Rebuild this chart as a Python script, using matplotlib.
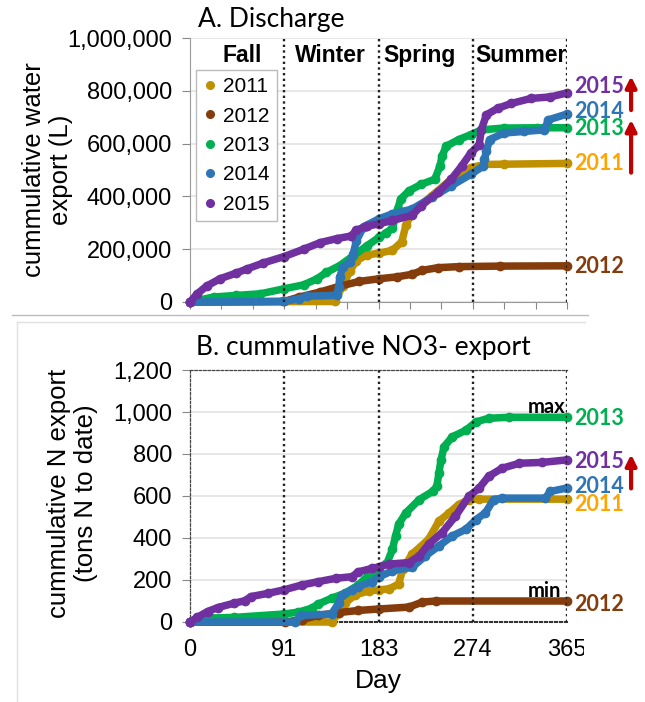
import matplotlib
matplotlib.use("Agg")
import matplotlib.pyplot as plt
from matplotlib.ticker import FuncFormatter, MultipleLocator
from matplotlib.lines import Line2D
from matplotlib.transforms import Bbox, TransformedBbox

plt.rcParams['font.family'] = ['Liberation Sans', 'DejaVu Sans']

years = ['2011', '2012', '2013', '2014', '2015']
line_colors = ['#BF9000', '#843C0C', '#00B050', '#2E75B6', '#7030A0']
label_colors = ['#FFA500', '#843C0C', '#00B050', '#2E75B6', '#7030A0']
seasons = ['Fall', 'Winter', 'Spring', 'Summer']
season_days = [91, 183, 274, 365]

# A. cumulative water export (L)
w_days_2011 = [0, 140, 148, 155, 161, 171, 183, 196, 205, 209, 215, 234, 253, 272, 285, 304, 365]
w_2011 = [0, 2000, 62000, 119000, 156000, 178000, 185000, 196000, 228000, 290000, 340000,
          402000, 465000, 509000, 521000, 522000, 525000]
w_days_2012 = [0, 91, 106, 126, 145, 164, 183, 200, 215, 225, 240, 260, 300, 365]
w_2012 = [0, 2000, 19000, 38000, 60000, 78000, 88000, 95000, 105000, 120000, 130000,
          134000, 136000, 137000]
w_days_2013 = [0, 23, 45, 68, 91, 110, 123, 132, 145, 158, 171, 183, 190, 196, 201, 204, 212,
               224, 237, 242, 244, 248, 260, 272, 282, 304, 336, 365]
w_2013 = [0, 19000, 25000, 31000, 50000, 65000, 88000, 112000, 138000, 175000, 212000, 245000,
          262000, 280000, 352000, 390000, 421000, 446000, 465000, 515000, 552000, 590000,
          615000, 634000, 652000, 659000, 660000, 660000]
w_days_2014 = [0, 90, 106, 113, 142, 144, 145, 148, 155, 158, 161, 168, 183, 196, 215, 234, 253,
               272, 284, 285, 287, 290, 304, 323, 343, 347, 365]
w_2014 = [0, 2000, 12000, 22000, 25000, 56000, 94000, 131000, 150000, 181000, 231000, 285000,
          315000, 334000, 352000, 396000, 440000, 484000, 515000, 540000, 571000, 615000,
          640000, 646000, 652000, 690000, 712000]
w_days_2015 = [0, 7, 16, 29, 45, 55, 71, 91, 110, 126, 142, 156, 161, 171, 183, 196, 215, 224,
               240, 253, 263, 272, 280, 282, 287, 298, 311, 330, 349, 365]
w_2015 = [0, 31000, 60000, 88000, 110000, 125000, 148000, 172000, 200000, 225000, 240000,
          250000, 272000, 287000, 296000, 309000, 328000, 365000, 415000, 465000, 515000,
          565000, 596000, 652000, 709000, 734000, 752000, 771000, 777000, 792000]

# B. cumulative NO3- export (tons N)
n_days_2011 = [0, 137, 144, 150, 160, 173, 183, 193, 202, 206, 215, 231, 241, 251, 260, 270, 280, 365]
n_2011 = [0, 0, 43, 90, 129, 148, 153, 158, 181, 252, 323, 394, 480, 520, 559, 583, 585, 585]
n_days_2012 = [0, 92, 108, 124, 144, 163, 183, 212, 225, 238, 365]
n_2012 = [0, 0, 11, 31, 45, 55, 62, 71, 95, 100, 100]
n_days_2013 = [0, 20, 43, 91, 105, 118, 124, 137, 150, 163, 176, 183, 191, 196, 199, 202, 209,
               222, 235, 239, 241, 243, 246, 254, 267, 277, 289, 309, 365]
n_2013 = [0, 19, 22, 38, 47, 66, 85, 113, 137, 176, 239, 258, 283, 346, 410, 465, 520, 583,
          622, 646, 709, 772, 835, 882, 913, 953, 970, 975, 975]
n_days_2014 = [0, 102, 107, 137, 144, 147, 157, 163, 176, 183, 196, 215, 228, 241, 254, 267,
               277, 286, 294, 302, 344, 349, 365]
n_2014 = [0, 0, 31, 38, 90, 129, 153, 168, 192, 215, 244, 260, 315, 362, 410, 441, 488, 520,
          583, 590, 590, 622, 638]
n_days_2015 = [0, 7, 17, 27, 43, 53, 59, 76, 91, 108, 124, 141, 157, 163, 176, 183, 193, 212,
               222, 231, 244, 257, 270, 280, 289, 302, 319, 341, 365]
n_2015 = [0, 22, 50, 69, 90, 101, 121, 137, 153, 176, 192, 208, 216, 239, 255, 263, 276, 283,
          315, 370, 425, 504, 598, 638, 693, 732, 756, 760, 772]

water = [(w_days_2011, w_2011), (w_days_2012, w_2012), (w_days_2013, w_2013),
         (w_days_2014, w_2014), (w_days_2015, w_2015)]
nitrate = [(n_days_2011, n_2011), (n_days_2012, n_2012), (n_days_2013, n_2013),
           (n_days_2014, n_2014), (n_days_2015, n_2015)]

W, H = 645, 702
fig = plt.figure(figsize=(W / 100, H / 100), dpi=100)

def frac(x0, y0, x1, y1):
    return [x0 / W, 1 - y1 / H, (x1 - x0) / W, (y1 - y0) / H]

axA = fig.add_axes(frac(190, 38, 567, 302))
axB = fig.add_axes(frac(190, 370, 567, 622))

comma = FuncFormatter(lambda v, p: f"{int(v):,}")
dotted = (0, (1, 1.4))

for ax, data in [(axA, water), (axB, nitrate)]:
    for (d, v), c in zip(data, line_colors):
        ax.plot(d, v, color=c, lw=5.4, marker='o', ms=6, mec=c, mfc=c,
                solid_capstyle='round', clip_on=False, zorder=3)
    for sd in season_days:
        ax.axvline(sd, color='#222222', ls=dotted, lw=1.7, zorder=4)
    ax.set_xlim(0, 365)
    ax.yaxis.set_major_formatter(comma)
    ax.grid(axis='y', color='#E3E3E3', lw=1.2)
    ax.set_axisbelow(True)
    ax.tick_params(axis='y', labelsize=17, length=6, color='#888888', pad=7)
    ax.spines['right'].set_visible(False)

# panel A
axA.set_ylim(0, 1000000)
axA.yaxis.set_major_locator(MultipleLocator(200000))
axA.xaxis.set_major_locator(MultipleLocator(365 / 12))
axA.tick_params(axis='x', labelbottom=False, length=5, color='#888888')
axA.spines['top'].set_visible(False)
for s in ['left', 'bottom']:
    axA.spines[s].set_color('#999999')
axA.set_ylabel('cummulative water\nexport (L)', fontsize=18.5, linespacing=1.15)
axA.yaxis.set_label_coords(-0.31, 0.5)
axA.set_title('A. Discharge', fontsize=19, family='Lato', loc='left', x=0.02, y=1.01)
for name, x in zip(seasons, [0.138, 0.373, 0.61, 0.878]):
    axA.text(x, 0.935, name, transform=axA.transAxes, ha='center', va='center',
             fontsize=16.5, fontweight='bold')
handles = [Line2D([], [], ls='none', marker='o', ms=5.5, color=c) for c in line_colors]
leg = axA.legend(handles, years, loc='upper left', bbox_to_anchor=(0.016, 0.879),
                 borderaxespad=0, fontsize=15, handlelength=0.6, handletextpad=0.35,
                 labelspacing=0.5, borderpad=0.35, fancybox=False, framealpha=1)
leg.get_frame().set_edgecolor('#BBBBBB')

# panel B
axB.set_ylim(0, 1200)
axB.yaxis.set_major_locator(MultipleLocator(200))
axB.set_xticks([0] + season_days)
axB.tick_params(axis='x', labelsize=17, length=0, pad=12)
for s in ['left', 'top']:
    axB.spines[s].set_linestyle((0, (2, 1.5)))
    axB.spines[s].set_color('#444444')
    axB.spines[s].set_linewidth(0.9)
axB.spines['bottom'].set_linestyle(dotted)
axB.spines['bottom'].set_linewidth(1.5)
axB.spines['bottom'].set_color('#333333')
axB.set_ylabel('cummulative N export\n(tons N to date)', fontsize=18.5, linespacing=1.15)
axB.yaxis.set_label_coords(-0.245, 0.51)
axB.set_xlabel('Day', fontsize=19, labelpad=6)
axB.set_title('B. cummulative NO3- export', fontsize=19, family='Lato', loc='left',
              x=0.015, y=1.025)
clip = TransformedBbox(Bbox([[0, 0], [584 / W, 1]]), fig.transFigure)
for lab in axB.get_xticklabels():
    lab.set_clip_box(clip)
    lab.set_clip_on(True)

# end labels
labA = {'2015': 0.815, '2014': 0.72, '2013': 0.659, '2011': 0.523, '2012': 0.136}
labB = {'2013': 0.806, '2015': 0.635, '2014': 0.536, '2011': 0.468, '2012': 0.068}
for ax, labs in [(axA, labA), (axB, labB)]:
    for yr, yy in labs.items():
        c = label_colors[years.index(yr)]
        ax.text(1.018, yy, yr, transform=ax.transAxes, color=c, fontsize=15.5,
                family='Lato', fontweight='bold', va='center', ha='left')
axB.text(0.995, 0.853, 'max', transform=axB.transAxes, fontsize=14.5, family='Lato',
         fontweight='bold', ha='right', va='center')
axB.text(0.985, 0.123, 'min', transform=axB.transAxes, fontsize=14.5, family='Lato',
         fontweight='bold', ha='right', va='center')

arrow = dict(arrowstyle='-|>', lw=3, color='#C00000', mutation_scale=16, shrinkA=0, shrinkB=0)
for ax, y0, y1 in [(axA, 0.727, 0.855), (axA, 0.49, 0.69), (axB, 0.53, 0.665)]:
    ax.annotate('', xy=(1.17, y1), xytext=(1.17, y0), xycoords='axes fraction',
                arrowprops=arrow, annotation_clip=False)

# panel separators
fig.add_artist(Line2D([12 / W, 588 / W], [1 - 315 / H] * 2, color='#BBBBBB', lw=1))
fig.add_artist(Line2D([17 / W, 585 / W], [1 - 322 / H] * 2, color='#E0E0E0', lw=1))
fig.add_artist(Line2D([17 / W, 17 / W], [1 - 322 / H, 0], color='#E0E0E0', lw=1))

fig.savefig('out.png', dpi=100)
